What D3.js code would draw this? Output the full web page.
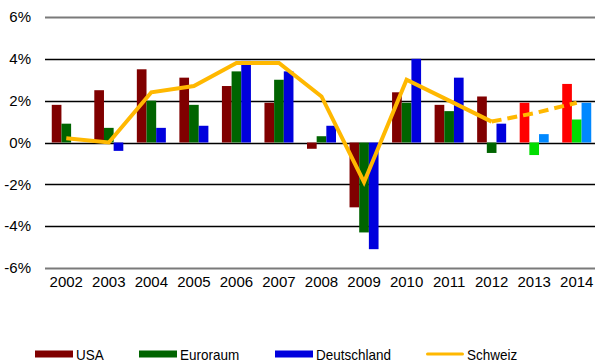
<!DOCTYPE html>
<html>
<head>
<meta charset="utf-8">
<script src="https://cdn.jsdelivr.net/npm/d3@7"></script>
<style>
  html, body { margin: 0; padding: 0; background: #fff; }
  svg { display: block; font-family: "Liberation Sans", Arial, sans-serif; }
</style>
</head>
<body>
<svg id="chart" width="595" height="363"></svg>
<script>
// GDP growth rates (%) by year
const years = ["2002","2003","2004","2005","2006","2007","2008","2009","2010","2011","2012","2013","2014"];
const usa         = [1.8, 2.5, 3.5, 3.1, 2.7, 1.9, -0.3, -3.1, 2.4, 1.8, 2.2, 1.9, 2.8];
const euroraum    = [0.9, 0.7, 2.0, 1.8, 3.4, 3.0, 0.3, -4.3, 1.9, 1.5, -0.5, -0.6, 1.1];
const deutschland = [0.0, -0.4, 0.7, 0.8, 3.9, 3.4, 0.8, -5.1, 4.0, 3.1, 0.9, 0.4, 1.9];
const schweiz     = [0.2, 0.0, 2.4, 2.7, 3.8, 3.8, 2.2, -1.9, 3.0, 2.0, 1.0, 1.4, 1.9];
// years from here on are forecasts
const forecastFrom = "2013";
const yTicks = [-6, -4, -2, 0, 2, 4, 6];

const seriesNames = ["USA", "Euroraum", "Deutschland"];
const seriesData = [usa, euroraum, deutschland];
const colors = { USA: "#800000", Euroraum: "#006400", Deutschland: "#0000dd", Schweiz: "#ffb800" };
const forecastColors = { USA: "#ff0000", Euroraum: "#00dd00", Deutschland: "#0088ff" };

const svg = d3.select("#chart");
const plotLeft = 45, plotRight = 598, plotTop = 17, plotBottom = 268;
const fontFamily = "'Liberation Sans', Arial, sans-serif";

const x0 = d3.scaleBand().domain(years).range([plotLeft, plotRight]).paddingInner(0.318).paddingOuter(0.159);
const x1 = d3.scaleBand().domain(seriesNames).range([0, x0.bandwidth()]);
const y = d3.scaleLinear().domain([-6, 6]).range([plotBottom, plotTop]);

// horizontal grid
svg.append("g").selectAll("line").data(yTicks).join("line")
  .attr("x1", plotLeft).attr("x2", 595)
  .attr("y1", d => Math.round(y(d)) + 0.5).attr("y2", d => Math.round(y(d)) + 0.5)
  .attr("stroke", d => Math.abs(d) === 6 ? "#7a7a7a" : "#000")
  .attr("stroke-width", d => Math.abs(d) === 6 ? 2 : 1.3);

// y axis labels
const yAxis = d3.axisLeft(y).tickValues(yTicks).tickFormat(d => d + "%").tickSize(0).tickPadding(0);
const gy = svg.append("g").attr("transform", "translate(31,0)").call(yAxis);
gy.attr("font-family", fontFamily).attr("font-size", 15);
gy.select(".domain").remove();
gy.selectAll("text").attr("fill", "#000");

// x axis labels
const xAxis = d3.axisBottom(x0).tickSize(0).tickPadding(0);
const gx = svg.append("g").attr("transform", `translate(0,${plotBottom + 8})`).call(xAxis);
gx.attr("font-family", fontFamily).attr("font-size", 15);
gx.select(".domain").remove();
gx.selectAll("text").attr("fill", "#000");

// bars
const rows = years.map((yr, i) => ({
  year: yr,
  values: seriesNames.map((s, k) => ({ series: s, value: seriesData[k][i], forecast: yr >= forecastFrom }))
}));

svg.append("g").selectAll("g").data(rows).join("g")
  .attr("transform", d => `translate(${x0(d.year)},0)`)
  .selectAll("rect").data(d => d.values).join("rect")
  .attr("x", d => x1(d.series))
  .attr("width", x1.bandwidth())
  .attr("y", d => y(Math.max(0, d.value)))
  .attr("height", d => Math.abs(y(d.value) - y(0)))
  .attr("fill", d => d.forecast ? forecastColors[d.series] : colors[d.series]);

// Schweiz line: solid for actual values, dashed for the forecast span
const pts = years.map((yr, i) => ({ year: yr, value: schweiz[i] }));
const line = d3.line().x(d => x0(d.year) + x0.bandwidth() / 2).y(d => y(d.value));
const fIdx = years.indexOf(forecastFrom);
svg.append("path").datum(pts.slice(0, fIdx))
  .attr("d", line).attr("fill", "none").attr("stroke", colors.Schweiz)
  .attr("stroke-width", 4).attr("stroke-linejoin", "miter");
svg.append("path").datum(pts.slice(fIdx - 1))
  .attr("d", line).attr("fill", "none").attr("stroke", colors.Schweiz)
  .attr("stroke-width", 4).attr("stroke-dasharray", "10,6");

// legend
const legend = [
  { name: "USA", x: 35, type: "bar" },
  { name: "Euroraum", x: 139, type: "bar" },
  { name: "Deutschland", x: 275, type: "bar" },
  { name: "Schweiz", x: 426, type: "line" }
];
const lg = svg.append("g").selectAll("g").data(legend).join("g")
  .attr("transform", d => `translate(${d.x},354)`);
lg.append("rect")
  .attr("x", 0).attr("width", 38)
  .attr("y", d => d.type === "bar" ? -3.5 : -1.5)
  .attr("height", d => d.type === "bar" ? 7 : 3)
  .attr("rx", d => d.type === "bar" ? 0 : 1.5)
  .attr("fill", d => colors[d.name]);
// slightly condensed legend labels
lg.append("text").attr("transform", "translate(41,5.5) scale(0.9,1)")
  .attr("font-family", fontFamily).attr("font-size", 15).attr("fill", "#000")
  .text(d => d.name);
</script>
</body>
</html>
